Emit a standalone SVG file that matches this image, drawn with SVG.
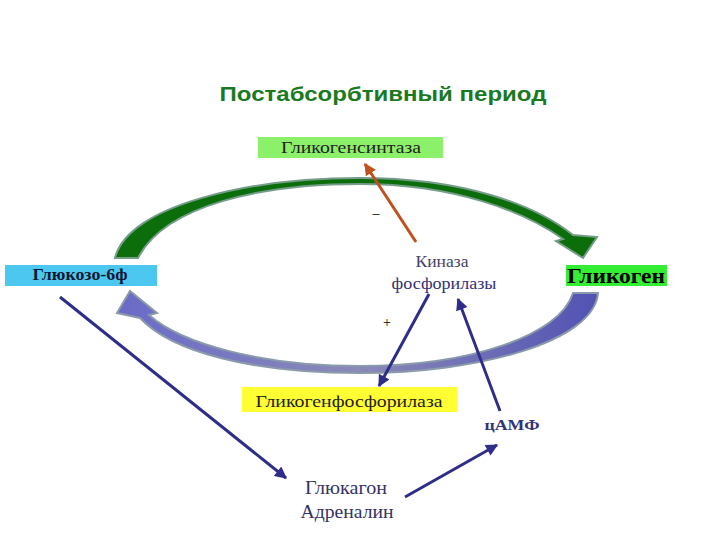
<svg xmlns="http://www.w3.org/2000/svg" width="720" height="540" viewBox="0 0 720 540">
<defs>
<style>
.serif{font-family:"Liberation Serif","Times New Roman","DejaVu Serif","Noto Serif",serif}
.title{font-family:"Liberation Sans",Arial,"DejaVu Sans",sans-serif;font-weight:bold;font-size:20px;fill:#1b7a1f}
.lbl{font-size:17px;fill:#222}
.blue{stroke:#2e2e88;stroke-width:3;fill:none}
</style>
<linearGradient id="bg" x1="0" y1="0" x2="1" y2="0">
<stop offset="0" stop-color="#6a6ac8"/>
<stop offset="0.5" stop-color="#8a8ab8"/>
<stop offset="1" stop-color="#5252b4"/>
</linearGradient>
<marker id="ab" viewBox="0 0 10 10" refX="9" refY="5" markerWidth="4.5" markerHeight="4" orient="auto" markerUnits="strokeWidth">
<path d="M0,0 L10,5 L0,10 Z" fill="#2e2e88"/>
</marker>
<marker id="ar" viewBox="0 0 10 10" refX="9" refY="5" markerWidth="4" markerHeight="4" orient="auto" markerUnits="strokeWidth">
<path d="M0,0 L10,5 L0,10 Z" fill="#c0501e"/>
</marker>
</defs>
<rect width="720" height="540" fill="#fff"/>
<text class="title" x="383" y="101" text-anchor="middle" textLength="327" lengthAdjust="spacingAndGlyphs">Постабсорбтивный период</text>

<g id="cycle-arrows">
<path id="green-arc" d="M115,258 C128,205 250,178 360,178 C465,178 535,205 573,235 L597,237 L583,258 L556,241 L563,239 C525,212 455,184 360,184 C262,184 165,205 138,258 Z" fill="#0b6e0b" stroke="#769c8a" stroke-width="2"/>
<path id="blue-arc" d="M598,293 C594,342 478,373 360,373 C252,373 172,352 140,318 L117,313 L130,291 L157,313 L149,315 C182,344 262,366 360,366 C468,366 560,336 573,293 Z" fill="url(#bg)" stroke="#8a9aaa" stroke-width="2"/>
</g>

<g id="connectors">
<line x1="416" y1="242" x2="365" y2="164" stroke="#c0501e" stroke-width="3" marker-end="url(#ar)"/>
<line class="blue" x1="429" y1="294" x2="379" y2="386" marker-end="url(#ab)"/>
<line class="blue" x1="500" y1="411" x2="458" y2="299" marker-end="url(#ab)"/>
<line class="blue" x1="60" y1="297" x2="286" y2="478" marker-end="url(#ab)"/>
<line class="blue" x1="405" y1="497" x2="497" y2="445" marker-end="url(#ab)"/>
</g>

<g id="glycogen-synthase">
<rect x="258" y="137" width="185" height="21" fill="#8cf06a"/>
<text class="serif lbl" x="351" y="153" text-anchor="middle" textLength="140" lengthAdjust="spacingAndGlyphs">Гликогенсинтаза</text>
</g>
<g id="glucose-6p">
<rect x="5" y="265" width="152" height="21" fill="#4cc8f0"/>
<text class="serif" x="80" y="280" text-anchor="middle" font-size="16" font-weight="bold" fill="#111833" textLength="95" lengthAdjust="spacingAndGlyphs">Глюкозо-6ф</text>
</g>
<g id="glycogen">
<rect x="566" y="265" width="101" height="21" fill="#33ee33"/>
<text class="serif" x="616" y="283" text-anchor="middle" font-size="21" font-weight="bold" fill="#000" textLength="98" lengthAdjust="spacingAndGlyphs">Гликоген</text>
</g>
<g id="kinase">
<text class="serif" x="442" y="267" text-anchor="middle" font-size="16" fill="#444466" textLength="53" lengthAdjust="spacingAndGlyphs">Киназа</text>
<text class="serif" x="444" y="289" text-anchor="middle" font-size="16" fill="#333377" textLength="105" lengthAdjust="spacingAndGlyphs">фосфорилазы</text>
</g>
<g id="signs">
<text class="serif" x="376" y="218" text-anchor="middle" font-size="14" fill="#000">–</text>
<text class="serif" x="387" y="327" text-anchor="middle" font-size="14" fill="#000">+</text>
</g>
<g id="glycogen-phosphorylase">
<rect x="242" y="387" width="215" height="25" fill="#ffff33"/>
<text class="serif lbl" x="349" y="407" text-anchor="middle" fill="#333" textLength="187" lengthAdjust="spacingAndGlyphs">Гликогенфосфорилаза</text>
</g>
<g id="camp">
<text class="serif" x="512" y="430" text-anchor="middle" font-size="15" font-weight="bold" fill="#333377" textLength="55" lengthAdjust="spacingAndGlyphs">цАМФ</text>
</g>
<g id="hormones">
<text class="serif" x="346" y="494" text-anchor="middle" font-size="18" fill="#333366" textLength="82" lengthAdjust="spacingAndGlyphs">Глюкагон</text>
<text class="serif" x="347" y="518" text-anchor="middle" font-size="18" fill="#333366" textLength="93" lengthAdjust="spacingAndGlyphs">Адреналин</text>
</g>
</svg>
